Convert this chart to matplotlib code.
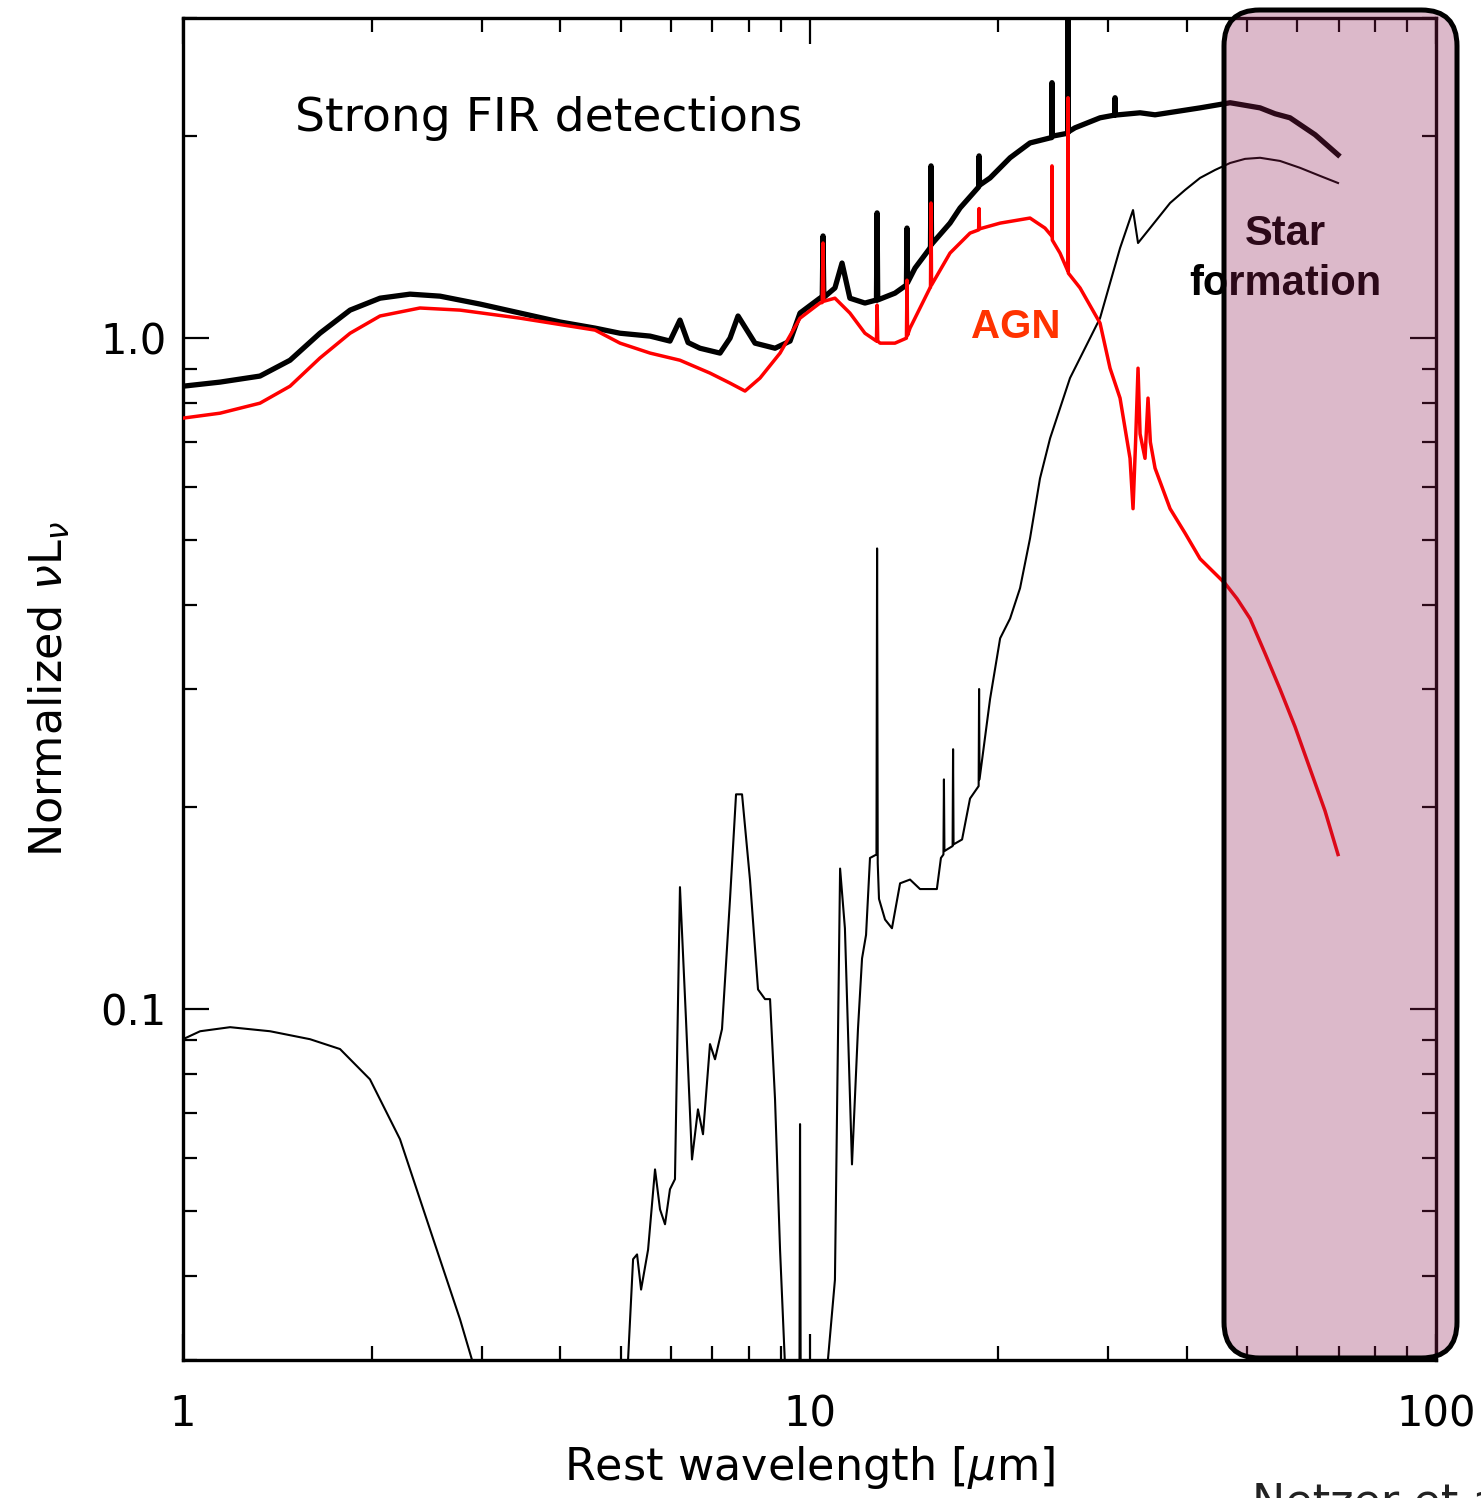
import numpy as np
import matplotlib
matplotlib.use("Agg")
import matplotlib.pyplot as plt
from matplotlib.patches import FancyBboxPatch
from matplotlib.ticker import FixedLocator, FuncFormatter, NullFormatter, LogLocator

# total SED (thick black), wavelength in micron / normalized nuLnu
wl_total = [1.00, 1.146, 1.327, 1.482, 1.654, 1.848, 2.063, 2.303, 2.572, 2.980, 3.451,
            3.998, 4.547, 4.984, 5.566, 5.988, 6.212, 6.40, 6.686, 7.197, 7.467, 7.690,
            8.185, 8.810, 9.310, 9.658, 10.39, 10.48, 10.51, 10.54, 10.98, 11.27, 11.60,
            12.26, 12.79, 12.82, 12.85, 13.69, 14.28, 14.31, 14.34, 14.74, 15.57, 15.60,
            15.63, 15.66, 16.76, 17.39, 18.62, 18.65, 18.68, 19.42, 20.90, 22.49, 24.21,
            24.35, 24.38, 24.41, 25.83, 25.86, 25.89, 26.53, 29.09, 30.70, 30.74, 30.78,
            33.70, 35.61, 42.02, 46.92, 52.38, 55.34, 58.48, 64.12, 69.76]
f_total = [0.848, 0.860, 0.878, 0.927, 1.017, 1.101, 1.147, 1.163, 1.155, 1.124, 1.090,
           1.057, 1.035, 1.017, 1.007, 0.990, 1.064, 0.985, 0.966, 0.950, 1.000, 1.079,
           0.983, 0.966, 0.990, 1.090, 1.147, 1.150, 1.420, 1.150, 1.188, 1.294, 1.147,
           1.128, 1.140, 1.537, 1.140, 1.167, 1.200, 1.459, 1.210, 1.272, 1.362, 1.370,
           1.806, 1.380, 1.484, 1.563, 1.680, 1.869, 1.690, 1.733, 1.857, 1.954, 1.988,
           1.990, 2.403, 2.000, 2.020, 3.100, 2.030, 2.058, 2.130, 2.150, 2.282, 2.150,
           2.167, 2.152, 2.204, 2.243, 2.204, 2.160, 2.130, 2.010, 1.876]

# AGN component (red)
wl_agn = [1.00, 1.146, 1.327, 1.482, 1.654, 1.848, 2.063, 2.389, 2.768, 3.451, 4.547,
          4.984, 5.566, 6.212, 6.937, 7.467, 7.890, 8.337, 8.974, 9.658, 10.39, 10.48,
          10.51, 10.54, 10.98, 11.60, 12.26, 12.79, 12.82, 12.85, 12.96, 13.69, 14.28,
          14.31, 14.34, 14.47, 15.57, 15.60, 15.63, 15.66, 16.76, 18.04, 18.62, 18.65,
          18.68, 20.15, 22.49, 23.76, 24.35, 24.38, 24.41, 25.11, 25.83, 25.86, 25.89,
          27.03, 29.09, 30.18, 31.31, 32.48, 32.84, 33.15, 33.45, 33.70, 34.32, 34.70,
          35.00, 35.61, 37.63, 39.77, 42.02, 46.06, 48.13, 50.49, 53.35, 56.36, 59.57,
          62.95, 66.50, 69.76]
f_agn = [0.760, 0.773, 0.800, 0.848, 0.934, 1.017, 1.079, 1.109, 1.101, 1.071, 1.028,
         0.983, 0.950, 0.927, 0.887, 0.857, 0.834, 0.872, 0.950, 1.071, 1.128, 1.130,
         1.386, 1.135, 1.147, 1.090, 1.017, 0.990, 1.120, 0.990, 0.983, 0.983, 1.000,
         1.220, 1.010, 1.035, 1.188, 1.190, 1.590, 1.200, 1.339, 1.434, 1.450, 1.560,
         1.455, 1.484, 1.510, 1.459, 1.420, 1.806, 1.400, 1.339, 1.260, 2.282, 1.250,
         1.188, 1.053, 0.902, 0.814, 0.662, 0.557, 0.700, 0.902, 0.720, 0.662, 0.814,
         0.700, 0.640, 0.557, 0.512, 0.469, 0.431, 0.409, 0.382, 0.339, 0.300, 0.2635,
         0.228, 0.1975, 0.170]

# star formation component (thin black)
wl_sf = [5.00, 5.133, 5.229, 5.306, 5.385, 5.525, 5.668, 5.773, 5.880, 5.988, 6.099,
         6.212, 6.351, 6.493, 6.637, 6.761, 6.937, 7.066, 7.250, 7.467, 7.634, 7.804,
         8.035, 8.276, 8.492, 8.650, 8.810, 8.974, 9.208, 9.40, 9.63, 9.658, 9.69,
         10.60, 10.70, 10.98, 11.19, 11.39, 11.69, 11.95, 12.13, 12.31, 12.49, 12.79,
         12.82, 12.85, 12.91, 13.20, 13.54, 13.95, 14.47, 15.01, 15.57, 15.97, 16.21,
         16.36, 16.39, 16.42, 16.58, 16.92, 16.95, 16.98, 17.52, 18.04, 18.62, 18.65,
         18.68, 19.42, 20.15, 20.90, 21.68, 22.49, 23.33, 24.21, 25.11, 26.05, 27.03,
         28.04, 29.09, 30.18, 31.31, 32.84, 33.45, 34.96, 37.63, 39.77, 42.02, 44.40,
         46.92, 49.56, 52.38, 56.36, 60.67, 65.30, 69.76]
f_sf = [0.020, 0.030, 0.0424, 0.0431, 0.0382, 0.0438, 0.0577, 0.0503, 0.0478, 0.0539, 0.0558,
        0.152, 0.0966, 0.0597, 0.0709, 0.0651, 0.0887, 0.0842, 0.0934, 0.146, 0.209, 0.209,
        0.156, 0.107, 0.1035, 0.1035, 0.0734, 0.0438, 0.025, 0.020, 0.020, 0.0674, 0.020,
        0.020, 0.030, 0.0395, 0.162, 0.132, 0.0587, 0.0934, 0.119, 0.129, 0.168, 0.170,
        0.486, 0.165, 0.146, 0.136, 0.132, 0.154, 0.156, 0.151, 0.151, 0.151, 0.168,
        0.170, 0.220, 0.172, 0.173, 0.175, 0.244, 0.176, 0.179, 0.206, 0.215, 0.300,
        0.220, 0.290, 0.357, 0.382, 0.424, 0.503, 0.618, 0.709, 0.786, 0.872, 0.934,
        1.000, 1.071, 1.208, 1.362, 1.552, 1.386, 1.459, 1.590, 1.663, 1.733, 1.781,
        1.824, 1.850, 1.857, 1.837, 1.794, 1.745, 1.703]

# stellar component (thin black, lower left)
wl_star = [1.00, 1.065, 1.189, 1.377, 1.595, 1.781, 1.988, 2.220, 2.480, 2.768, 2.893, 3.00]
f_star = [0.0902, 0.0927, 0.0940, 0.0927, 0.0902, 0.0872, 0.0786, 0.0640, 0.0469, 0.0345,
          0.0300, 0.027]

W, H = 1481, 1498
fig = plt.figure(figsize=(W / 100, H / 100), dpi=100)
fig.patch.set_facecolor('white')
ax = fig.add_axes([183 / W, 1 - 1360 / H, (1436 - 183) / W, (1360 - 18) / H])

ax.plot(wl_star, f_star, color='black', lw=1.5, zorder=2)
ax.plot(wl_sf, f_sf, color='black', lw=1.5, zorder=2)
ax.plot(wl_total, f_total, color='black', lw=3.8, zorder=3)
ax.plot(wl_agn, f_agn, color='#ff0000', lw=2.5, zorder=4)

ax.set_xscale('log')
ax.set_yscale('log')
ax.set_xlim(1, 100)
ax.set_ylim(0.03, 3.0)

ax.xaxis.set_major_locator(FixedLocator([1, 10, 100]))
ax.xaxis.set_major_formatter(FuncFormatter(lambda v, p: '%d' % round(v)))
ax.xaxis.set_minor_locator(LogLocator(base=10, subs=np.arange(2, 10)))
ax.xaxis.set_minor_formatter(NullFormatter())
ax.yaxis.set_major_locator(FixedLocator([0.1, 1.0]))
ax.yaxis.set_major_formatter(FuncFormatter(lambda v, p: '%.1f' % v))
ax.yaxis.set_minor_locator(LogLocator(base=10, subs=np.arange(2, 10)))
ax.yaxis.set_minor_formatter(NullFormatter())

ax.tick_params(which='both', direction='in', top=True, right=True, width=1.6, colors='black')
ax.tick_params(which='major', length=19)
ax.tick_params(which='minor', length=10)
ax.tick_params(axis='x', which='major', pad=24, labelsize=30)
ax.tick_params(axis='y', which='major', pad=12, labelsize=30)
for s in ax.spines.values():
    s.set_linewidth(2.4)

ax.set_xlabel(r'Rest wavelength [$\mu$m]', fontsize=32, labelpad=6)
ax.set_ylabel(r'Normalized $\nu$L$_\nu$', fontsize=32, labelpad=20)

ax.text(0.089, 0.925, 'Strong FIR detections', transform=ax.transAxes, fontsize=34,
        ha='left', va='center')
ax.text(0.665, 0.77, 'AGN', transform=ax.transAxes, fontsize=29, fontweight='bold',
        color='#ff3300', ha='center', va='center', family='Liberation Sans')
ax.text(0.88, 0.839, 'Star', transform=ax.transAxes, fontsize=30, fontweight='bold',
        color='black', ha='center', va='center', family='Liberation Sans')
ax.text(0.88, 0.802, 'formation', transform=ax.transAxes, fontsize=30, fontweight='bold',
        color='black', ha='center', va='center', family='Liberation Sans')

# translucent "star formation" box drawn over everything
box = FancyBboxPatch((1224 / W, 1 - 1358 / H), (1457 - 1224) / W, (1358 - 10) / H,
                     boxstyle='round,pad=0,rounding_size=0.024',
                     transform=fig.transFigure, facecolor=(0.57, 0.125, 0.33, 0.31),
                     edgecolor='black', linewidth=3.6, zorder=10, clip_on=False)
fig.add_artist(box)

# citation, cut off by the figure edge as in the original slide
fig.text(1252 / W, -0.012, 'Netzer et al. 2016', fontsize=32, color='#222222',
         ha='left', va='baseline')

fig.savefig('out.png', dpi=100)
